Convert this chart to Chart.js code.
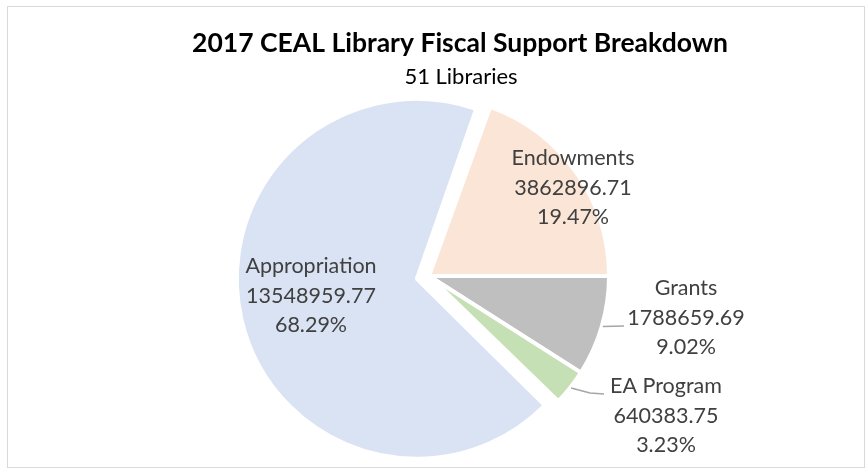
<!DOCTYPE html>
<html>
<head>
<meta charset="utf-8">
<script src="https://cdn.jsdelivr.net/npm/chart.js@4.4.0/dist/chart.umd.min.js"></script>
<style>
  html, body { margin: 0; padding: 0; background: #fff; }
  .frame { position: absolute; left: 7px; top: 6px; width: 858px; height: 462px; border: 1px solid #d9d9d9; box-sizing: border-box; }
  #wrap { position: absolute; left: 0; top: 0; width: 868px; height: 475px; }
</style>
</head>
<body>
<div class="frame"></div>
<div id="wrap"><canvas id="fiscal-pie"></canvas></div>
<script>
const chartTitle = '2017 CEAL Library Fiscal Support Breakdown';
const chartSubtitle = '51 Libraries';
const categories = ['Endowments', 'Grants', 'EA Program', 'Appropriation'];
const amounts = [3862896.71, 1788659.69, 640383.75, 13548959.77];
const sliceColors = ['#fbe5d6', '#bfbfbf', '#c5e0b4', '#dae3f3'];
const explode = [0, 0, 0, 50];

const total = amounts.reduce((a, b) => a + b, 0);
const percents = amounts.map(v => (v / total * 100).toFixed(2) + '%');

// label block centres relative to the pie centre, plus leader line points
const labelSpots = [
    { dx: 144, dy: -88 },
    { dx: 257, dy: 42, leader: [[195, 50]] },
    { dx: 237, dy: 140, leader: [[161, 117], [175, 118]] },
    { dx: -118, dy: 20 },
];

const labelFont = '21.5px Lato';
const labelColor = '#404040';
const lineGap = 29.5;

// chart.js grows an exploded arc's radius along with the offset,
// pull it back so every slice keeps the same radius
const sameRadius = {
    id: 'sameRadius',
    afterDatasetUpdate(chart) {
        const meta = chart.getDatasetMeta(0);
        meta.data.forEach((arc, i) => {
            const o = (explode[i] || 0) / 4;
            if (!o) return;
            const fix = 1 - Math.sin(Math.min(Math.PI, arc.circumference));
            arc.outerRadius -= o * fix;
        });
    }
};

const pieLabels = {
    id: 'pieLabels',
    afterDatasetsDraw(chart) {
        const ctx = chart.ctx;
        const meta = chart.getDatasetMeta(0);
        ctx.save();

        // title + subtitle
        ctx.textAlign = 'center';
        ctx.textBaseline = 'middle';
        ctx.fillStyle = '#000';
        ctx.font = 'bold 26.5px Lato';
        ctx.fillText(chartTitle, 460, 43);
        ctx.font = '22px Lato';
        ctx.fillText(chartSubtitle, 461, 77);

        meta.data.forEach((arc, i) => {
            const { x, y, startAngle, endAngle } = arc.getProps(['x', 'y', 'startAngle', 'endAngle'], true);
            const spot = labelSpots[i];
            const mid = (startAngle + endAngle) / 2;

            if (spot.leader) {
                ctx.strokeStyle = '#a6a6a6';
                ctx.lineWidth = 1.5;
                ctx.beginPath();
                ctx.moveTo(x + Math.cos(mid) * 181, y + Math.sin(mid) * 181);
                spot.leader.forEach(p => ctx.lineTo(x + p[0], y + p[1]));
                ctx.stroke();
            }

            const lx = x + spot.dx;
            const ly = y + spot.dy;
            ctx.font = labelFont;
            ctx.fillStyle = labelColor;
            ctx.fillText(categories[i], lx, ly - lineGap);
            ctx.fillText(amounts[i].toFixed(2), lx, ly);
            ctx.fillText(percents[i], lx, ly + lineGap);
        });
        ctx.restore();
    }
};

const ctx = document.getElementById('fiscal-pie').getContext('2d');
const fiscalPie = new Chart(ctx, {
    type: 'pie',
    data: {
        labels: categories,
        datasets: [{
            data: amounts,
            backgroundColor: sliceColors,
            borderColor: '#ffffff',
            borderWidth: 4,
            offset: explode,
            radius: 180,
            clip: false,
        }],
    },
    options: {
        responsive: true,
        maintainAspectRatio: false,
        animation: false,
        rotation: 19.9,
        layout: {
            padding: { top: 90, bottom: 13, left: 0, right: 10 },
        },
        plugins: {
            legend: { display: false },
            tooltip: { enabled: false },
        },
    },
    plugins: [sameRadius, pieLabels],
});
</script>
</body>
</html>
